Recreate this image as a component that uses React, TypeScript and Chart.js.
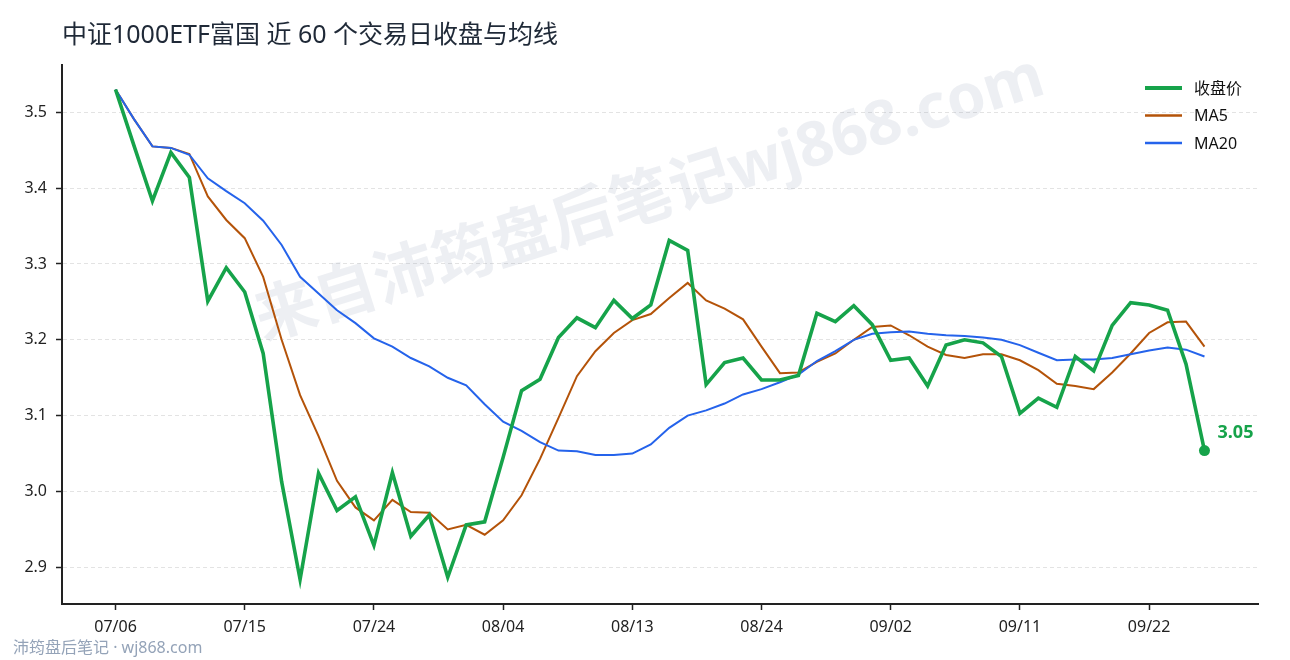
import React, { useEffect, useRef } from "react";
import { Chart, registerables } from "chart.js";

Chart.register(...registerables);

const dates = [
  "07/06", "07/07", "07/08", "07/09", "07/10", "07/13", "07/14", "07/15", "07/16", "07/17",
  "07/20", "07/21", "07/22", "07/23", "07/24", "07/27", "07/28", "07/29", "07/30", "07/31",
  "08/03", "08/04", "08/05", "08/06", "08/07", "08/10", "08/11", "08/12", "08/13", "08/14",
  "08/17", "08/18", "08/19", "08/20", "08/21", "08/24", "08/25", "08/26", "08/27", "08/28",
  "08/31", "09/01", "09/02", "09/03", "09/04", "09/07", "09/08", "09/09", "09/10", "09/11",
  "09/14", "09/15", "09/16", "09/17", "09/18", "09/21", "09/22", "09/23", "09/24", "09/25",
];

const closes = [
  3.530, 3.456, 3.383, 3.447, 3.414, 3.251, 3.295, 3.263, 3.182, 3.013,
  2.884, 3.024, 2.975, 2.993, 2.929, 3.025, 2.941, 2.969, 2.887, 2.956,
  2.960, 3.045, 3.133, 3.148, 3.203, 3.229, 3.216, 3.252, 3.228, 3.246,
  3.331, 3.318, 3.141, 3.170, 3.176, 3.147, 3.147, 3.153, 3.235, 3.224,
  3.245, 3.220, 3.173, 3.176, 3.139, 3.193, 3.200, 3.196, 3.178, 3.103,
  3.123, 3.111, 3.178, 3.159, 3.219, 3.249, 3.246, 3.239, 3.168, 3.054,
];

const ma5 = [
  3.530, 3.491, 3.455, 3.453, 3.445, 3.389, 3.358, 3.334, 3.283, 3.200,
  3.127, 3.073, 3.014, 2.979, 2.962, 2.989, 2.973, 2.972, 2.950, 2.956,
  2.943, 2.962, 2.995, 3.043, 3.097, 3.152, 3.185, 3.209, 3.226, 3.234,
  3.255, 3.275, 3.252, 3.241, 3.227, 3.191, 3.156, 3.157, 3.171, 3.182,
  3.200, 3.217, 3.219, 3.206, 3.191, 3.180, 3.176, 3.181, 3.181, 3.173,
  3.160, 3.142, 3.139, 3.135, 3.157, 3.182, 3.209, 3.223, 3.224, 3.191,
];

const ma20 = [
  3.530, 3.491, 3.455, 3.453, 3.444, 3.413, 3.396, 3.380, 3.357, 3.325,
  3.283, 3.261, 3.239, 3.222, 3.202, 3.191, 3.176, 3.165, 3.150, 3.140,
  3.115, 3.092, 3.080, 3.065, 3.054, 3.053, 3.048, 3.048, 3.050, 3.062,
  3.084, 3.100, 3.107, 3.116, 3.128, 3.135, 3.144, 3.154, 3.172, 3.185,
  3.200, 3.208, 3.210, 3.211, 3.208, 3.206, 3.205, 3.203, 3.200, 3.193,
  3.183, 3.173, 3.174, 3.174, 3.176, 3.181, 3.186, 3.190, 3.187, 3.178,
];

const xTickIdx = [0, 7, 14, 21, 28, 35, 42, 49, 56];
const yTicks = [2.9, 3.0, 3.1, 3.2, 3.3, 3.4, 3.5];
const seriesNames = ["收盘价", "MA5", "MA20"];
const titleText = "中证1000ETF富国 近 60 个交易日收盘与均线";
const watermarkText = "来自沛筠盘后笔记wj868.com";
const footerText = "沛筠盘后笔记 · wj868.com";

const GREEN = "#16a34a";
const ORANGE = "#b45309";
const BLUE = "#2563eb";
const FONT = "'Noto Sans', 'Noto Sans CJK SC', sans-serif";

export default function App() {
  const canvasRef = useRef<HTMLCanvasElement | null>(null);

  useEffect(() => {
    const canvas = canvasRef.current;
    if (!canvas) return;
    const last = closes.length - 1;
    const lo = Math.min(...closes);
    const hi = Math.max(...closes);
    const pad = (hi - lo) * 0.05;
    const xPad = 2.9;

    const decor = {
      id: "decor",
      beforeDraw(chart: any) {
        const ctx = chart.ctx;
        ctx.save();
        ctx.fillStyle = "#ffffff";
        ctx.fillRect(0, 0, chart.width, chart.height);
        ctx.restore();
      },
      beforeDatasetsDraw(chart: any) {
        const ctx = chart.ctx;
        ctx.save();
        ctx.translate(650, 200);
        ctx.rotate((-17.5 * Math.PI) / 180);
        ctx.font = `bold 62px ${FONT}`;
        ctx.fillStyle = "rgba(148,163,184,0.17)";
        ctx.textAlign = "center";
        ctx.textBaseline = "middle";
        ctx.fillText(watermarkText, 0, 0);
        ctx.restore();
      },
      afterDraw(chart: any) {
        const ctx = chart.ctx;
        const area = chart.chartArea;
        ctx.save();
        // title
        ctx.font = `25px ${FONT}`;
        ctx.fillStyle = "#1f2937";
        ctx.textAlign = "left";
        ctx.textBaseline = "middle";
        ctx.fillText(titleText, area.left, 36);

        // legend
        const colors = [GREEN, ORANGE, BLUE];
        const widths = [4, 2.3, 2.3];
        ctx.font = `16px ${FONT}`;
        seriesNames.forEach((name, i) => {
          const y = 88 + i * 27.5;
          ctx.beginPath();
          ctx.strokeStyle = colors[i];
          ctx.lineWidth = widths[i];
          ctx.moveTo(1145, y);
          ctx.lineTo(1182, y);
          ctx.stroke();
          ctx.fillStyle = "#111111";
          ctx.fillText(name, 1194, y + 1);
        });

        // end label
        const pt = chart.getDatasetMeta(0).data[last];
        if (pt) {
          ctx.font = `bold 18px ${FONT}`;
          ctx.fillStyle = GREEN;
          ctx.fillText(closes[last].toFixed(2), pt.x + 13, pt.y - 18);
        }

        // footer
        ctx.font = `16px ${FONT}`;
        ctx.fillStyle = "#94a3b8";
        ctx.fillText(footerText, 13, 648);
        ctx.restore();
      },
    };

    const chart = new Chart(canvas, {
      type: "line",
      data: {
        datasets: [
          {
            label: seriesNames[0],
            data: closes.map((v, i) => ({ x: i, y: v })),
            borderColor: GREEN,
            backgroundColor: GREEN,
            borderWidth: 3.6,
            pointRadius: (c: any) => (c.dataIndex === last ? 5.5 : 0),
            pointHoverRadius: 0,
            pointBorderWidth: 0,
            tension: 0,
            order: 0,
          },
          {
            label: seriesNames[1],
            data: ma5.map((v, i) => ({ x: i, y: v })),
            borderColor: ORANGE,
            backgroundColor: ORANGE,
            borderWidth: 2,
            pointRadius: 0,
            tension: 0,
            order: 2,
          },
          {
            label: seriesNames[2],
            data: ma20.map((v, i) => ({ x: i, y: v })),
            borderColor: BLUE,
            backgroundColor: BLUE,
            borderWidth: 2,
            pointRadius: 0,
            tension: 0,
            order: 1,
          },
        ],
      },
      options: {
        animation: false,
        responsive: true,
        maintainAspectRatio: false,
        events: [],
        layout: { padding: { top: 65, right: 32, bottom: 0, left: 0 } },
        plugins: {
          legend: { display: false },
          tooltip: { enabled: false },
          title: { display: false },
        },
        scales: {
          x: {
            type: "linear",
            min: -xPad,
            max: last + xPad,
            afterBuildTicks: (scale: any) => {
              scale.ticks = xTickIdx.map((v) => ({ value: v }));
            },
            afterFit: (scale: any) => {
              scale.height = 56;
            },
            ticks: {
              callback: (v: any) => dates[v] ?? "",
              color: "#222222",
              font: { family: FONT, size: 16 },
              padding: 8,
              maxRotation: 0,
              autoSkip: false,
            },
            grid: {
              drawOnChartArea: false,
              tickLength: 6,
              tickColor: "#222222",
              tickWidth: 1.5,
            },
            border: { color: "#222222", width: 2 },
          },
          y: {
            type: "linear",
            min: lo - pad,
            max: hi + pad,
            afterBuildTicks: (scale: any) => {
              scale.ticks = yTicks.map((v) => ({ value: v }));
            },
            afterFit: (scale: any) => {
              scale.width = 62;
            },
            ticks: {
              callback: (v: any) => Number(v).toFixed(1),
              color: "#222222",
              font: { family: FONT, size: 16 },
              padding: 9,
            },
            grid: {
              color: "#e3e3e3",
              lineWidth: 1,
              tickLength: 6,
              tickColor: "#222222",
              tickWidth: 1.5,
            },
            border: { color: "#222222", width: 2, dash: [4, 3] },
          },
        },
      },
      plugins: [decor],
    });

    return () => chart.destroy();
  }, []);

  return (
    <div style={{ position: "fixed", left: 0, top: 0, width: 1290, height: 660, background: "#fff" }}>
      <canvas ref={canvasRef} />
    </div>
  );
}
